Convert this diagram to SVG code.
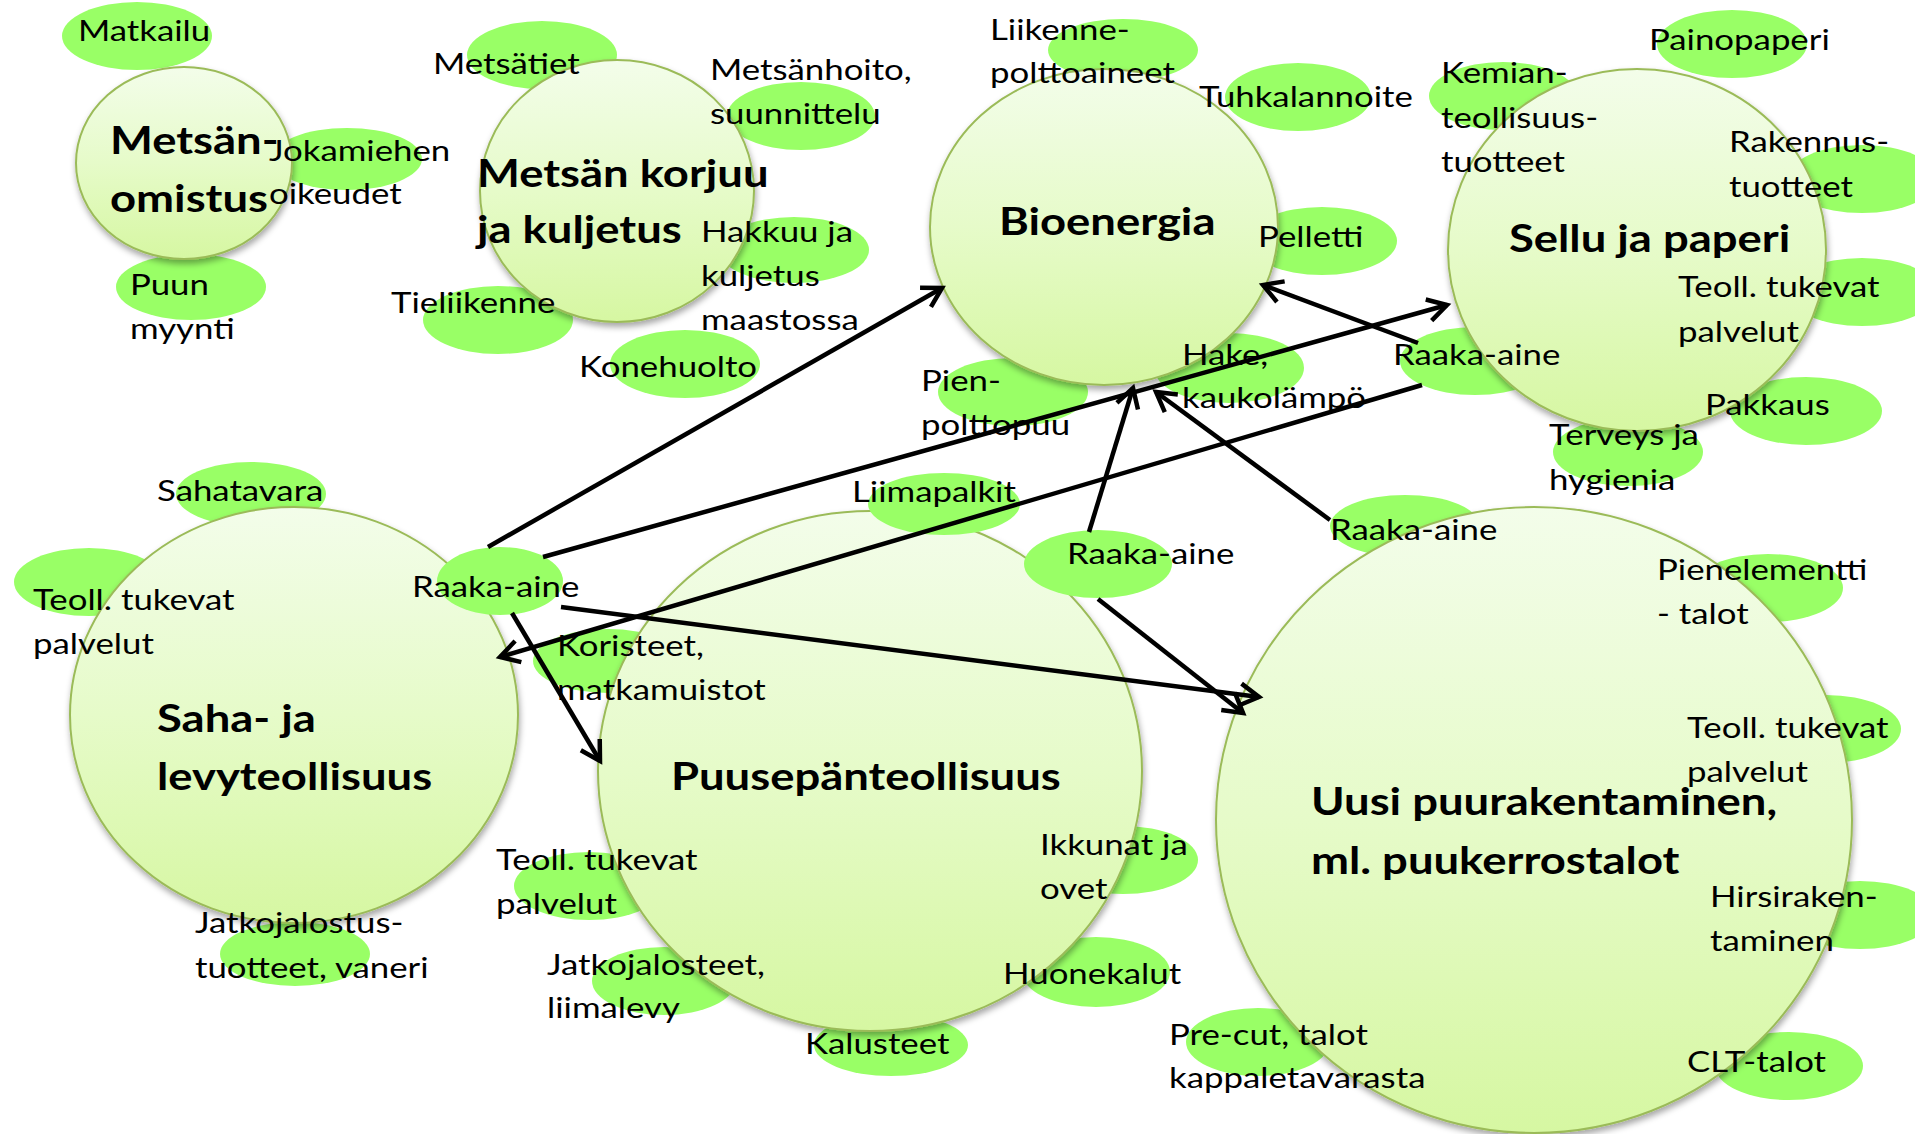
<svg xmlns="http://www.w3.org/2000/svg" width="1915" height="1134" viewBox="0 0 1915 1134">
<defs>
<style>
.bub{fill:#99ff66}
.node{fill:url(#ng);stroke:#9bbb59;stroke-width:2;filter:url(#sh)}
.r{font-family:Lato,"Liberation Sans",sans-serif;font-size:29px;fill:#000}
.b{font-family:Lato,"Liberation Sans",sans-serif;font-size:38px;font-weight:bold;fill:#000}
.c{stroke:#000;stroke-width:4.5;fill:none;marker-end:url(#ah)}
</style>
<linearGradient id="ng" x1="0" y1="0" x2="0" y2="1">
<stop offset="0" stop-color="#f3fdea"/>
<stop offset="0.5" stop-color="#e6fbc9"/>
<stop offset="1" stop-color="#d6f7a2"/>
</linearGradient>
<filter id="sh" x="-10%" y="-10%" width="120%" height="125%">
<feDropShadow dx="1" dy="4" stdDeviation="3" flood-color="#000" flood-opacity="0.35"/>
</filter>
<marker id="ah" markerUnits="userSpaceOnUse" markerWidth="32" markerHeight="32" viewBox="0 0 32 32" refX="27" refY="16" orient="auto">
<path d="M8,5 L27,16 L8,27" fill="none" stroke="#000" stroke-width="4.5"/>
</marker>
</defs>
<rect width="1915" height="1134" fill="#fff"/>

<g id="bubbles-back">
<ellipse id="b-matkailu" class="bub" cx="137" cy="36" rx="75" ry="34"/>
<ellipse id="b-jokamiehen" class="bub" cx="347" cy="159" rx="75" ry="31"/>
<ellipse id="b-puun" class="bub" cx="191" cy="287" rx="75" ry="33"/>
<ellipse id="b-metsatiet" class="bub" cx="542" cy="55" rx="75" ry="34"/>
<ellipse id="b-metsanhoito" class="bub" cx="801" cy="116" rx="74" ry="34"/>
<ellipse id="b-hakkuu" class="bub" cx="794" cy="250" rx="75" ry="33"/>
<ellipse id="b-tieliikenne" class="bub" cx="498" cy="320" rx="75" ry="34"/>
<ellipse id="b-konehuolto" class="bub" cx="685" cy="364" rx="75" ry="34"/>
<ellipse id="b-liikenne" class="bub" cx="1123" cy="50" rx="75" ry="31"/>
<ellipse id="b-tuhka" class="bub" cx="1298" cy="97" rx="73" ry="34"/>
<ellipse id="b-pelletti" class="bub" cx="1322" cy="241" rx="75" ry="34"/>
<ellipse id="b-pien" class="bub" cx="1013" cy="392" rx="75" ry="34"/>
<ellipse id="b-hake" class="bub" cx="1229" cy="368" rx="75" ry="35"/>
<ellipse id="b-kemian" class="bub" cx="1503" cy="96" rx="74" ry="34"/>
<ellipse id="b-painopaperi" class="bub" cx="1732" cy="44" rx="75" ry="34"/>
<ellipse id="b-rakennus" class="bub" cx="1862" cy="179" rx="75" ry="34"/>
<ellipse id="b-teoll-sellu" class="bub" cx="1862" cy="292" rx="75" ry="34"/>
<ellipse id="b-raaka-sellu" class="bub" cx="1475" cy="361" rx="75" ry="34"/>
<ellipse id="b-pakkaus" class="bub" cx="1806" cy="411" rx="76" ry="34"/>
<ellipse id="b-terveys" class="bub" cx="1628" cy="452" rx="75" ry="34"/>
<ellipse id="b-sahatavara" class="bub" cx="251" cy="494" rx="75" ry="32"/>
<ellipse id="b-teoll-saha" class="bub" cx="89" cy="582" rx="75" ry="34"/>
<ellipse id="b-raaka-uusi" class="bub" cx="1405" cy="526" rx="75" ry="31"/>
<ellipse id="b-koristeet" class="bub" cx="608" cy="661" rx="75" ry="32"/>
<ellipse id="b-pienelementti" class="bub" cx="1768" cy="588" rx="75" ry="34"/>
<ellipse id="b-teoll-uusi" class="bub" cx="1826" cy="729" rx="75" ry="34"/>
<ellipse id="b-teoll-puusepan" class="bub" cx="589" cy="886" rx="75" ry="34"/>
<ellipse id="b-ikkunat" class="bub" cx="1123" cy="860" rx="75" ry="34"/>
<ellipse id="b-jatkojalostus" class="bub" cx="295" cy="954" rx="75" ry="32"/>
<ellipse id="b-jatkojalosteet" class="bub" cx="664" cy="981" rx="72" ry="34"/>
<ellipse id="b-huonekalut" class="bub" cx="1096" cy="972" rx="74" ry="35"/>
<ellipse id="b-kalusteet" class="bub" cx="891" cy="1045" rx="77" ry="31"/>
<ellipse id="b-precut" class="bub" cx="1258" cy="1042" rx="72" ry="34"/>
<ellipse id="b-hirsi" class="bub" cx="1860" cy="915" rx="75" ry="34"/>
<ellipse id="b-clt" class="bub" cx="1789" cy="1066" rx="74" ry="34"/>
</g>

<g id="node-metsanomistus">
<ellipse class="node" cx="184" cy="163" rx="108" ry="96"/>
<text class="b" transform="matrix(1.195 0 0 1 110 154)"><tspan x="0">Metsän-</tspan><tspan x="0" dy="58">omistus</tspan></text>
</g>
<g id="node-korjuu">
<ellipse class="node" cx="617" cy="191" rx="137" ry="131"/>
<text class="b" transform="matrix(1.195 0 0 1 477 187)"><tspan x="0">Metsän korjuu</tspan><tspan x="0" dy="56">ja kuljetus</tspan></text>
</g>
<g id="node-bioenergia">
<ellipse class="node" cx="1104" cy="227" rx="174" ry="158"/>
<text class="b" transform="matrix(1.195 0 0 1 999 235)">Bioenergia</text>
</g>
<g id="node-sellu">
<ellipse class="node" cx="1637" cy="250" rx="189" ry="181"/>
<text class="b" transform="matrix(1.195 0 0 1 1509 252)">Sellu ja paperi</text>
</g>
<g id="node-saha">
<ellipse class="node" cx="294" cy="715" rx="224" ry="208"/>
<text class="b" transform="matrix(1.195 0 0 1 157 732)"><tspan x="0">Saha- ja</tspan><tspan x="0" dy="58">levyteollisuus</tspan></text>
</g>
<g id="node-puusepan">
<ellipse class="node" cx="870" cy="771" rx="272" ry="260"/>
<text class="b" transform="matrix(1.195 0 0 1 671 790)">Puusepänteollisuus</text>
</g>
<g id="node-uusi">
<ellipse class="node" cx="1534" cy="820" rx="318" ry="313"/>
<text class="b" transform="matrix(1.195 0 0 1 1311 815)"><tspan x="0">Uusi puurakentaminen,</tspan><tspan x="0" dy="59">ml. puukerrostalot</tspan></text>
</g>

<g id="bubbles-front">
<ellipse id="b-raaka-saha" class="bub" cx="500" cy="581" rx="63" ry="34"/>
<ellipse id="b-liimapalkit" class="bub" cx="944" cy="504" rx="76" ry="31"/>
<ellipse id="b-raaka-mid" class="bub" cx="1098" cy="564" rx="74" ry="34"/>
</g>

<g id="labels">
<g id="l-matkailu"><text class="r" transform="matrix(1.2 0 0 1 78 41)">Matkailu</text></g>
<g id="l-jokamiehen"><text class="r" transform="matrix(1.2 0 0 1 269 161)"><tspan x="0">Jokamiehen</tspan><tspan x="0" dy="43">oikeudet</tspan></text></g>
<g id="l-puun"><text class="r" transform="matrix(1.2 0 0 1 130 295)"><tspan x="0">Puun</tspan><tspan x="0" dy="44">myynti</tspan></text></g>
<g id="l-metsatiet"><text class="r" transform="matrix(1.2 0 0 1 433 74)">Metsätiet</text></g>
<g id="l-metsanhoito"><text class="r" transform="matrix(1.2 0 0 1 710 80)"><tspan x="0">Metsänhoito,</tspan><tspan x="0" dy="44">suunnittelu</tspan></text></g>
<g id="l-hakkuu"><text class="r" transform="matrix(1.2 0 0 1 701 242)"><tspan x="0">Hakkuu ja</tspan><tspan x="0" dy="44">kuljetus</tspan><tspan x="0" dy="44">maastossa</tspan></text></g>
<g id="l-tieliikenne"><text class="r" transform="matrix(1.2 0 0 1 391 313)">Tieliikenne</text></g>
<g id="l-konehuolto"><text class="r" transform="matrix(1.2 0 0 1 579 377)">Konehuolto</text></g>
<g id="l-liikenne"><text class="r" transform="matrix(1.2 0 0 1 990 40)"><tspan x="0">Liikenne-</tspan><tspan x="0" dy="43">polttoaineet</tspan></text></g>
<g id="l-tuhka"><text class="r" transform="matrix(1.2 0 0 1 1199 107)">Tuhkalannoite</text></g>
<g id="l-pelletti"><text class="r" transform="matrix(1.2 0 0 1 1258 247)">Pelletti</text></g>
<g id="l-pien"><text class="r" transform="matrix(1.2 0 0 1 921 391)"><tspan x="0">Pien-</tspan><tspan x="0" dy="44">polttopuu</tspan></text></g>
<g id="l-hake"><text class="r" transform="matrix(1.2 0 0 1 1182 365)"><tspan x="0">Hake,</tspan><tspan x="0" dy="43">kaukolämpö</tspan></text></g>
<g id="l-kemian"><text class="r" transform="matrix(1.2 0 0 1 1441 83)"><tspan x="0">Kemian-</tspan><tspan x="0" dy="45">teollisuus-</tspan><tspan x="0" dy="44">tuotteet</tspan></text></g>
<g id="l-painopaperi"><text class="r" transform="matrix(1.2 0 0 1 1649 50)">Painopaperi</text></g>
<g id="l-rakennus"><text class="r" transform="matrix(1.2 0 0 1 1729 152)"><tspan x="0">Rakennus-</tspan><tspan x="0" dy="45">tuotteet</tspan></text></g>
<g id="l-teoll-sellu"><text class="r" transform="matrix(1.2 0 0 1 1678 297)"><tspan x="0">Teoll. tukevat</tspan><tspan x="0" dy="45">palvelut</tspan></text></g>
<g id="l-raaka-sellu"><text class="r" transform="matrix(1.2 0 0 1 1393 365)">Raaka-aine</text></g>
<g id="l-pakkaus"><text class="r" transform="matrix(1.2 0 0 1 1705 415)">Pakkaus</text></g>
<g id="l-terveys"><text class="r" transform="matrix(1.2 0 0 1 1549 445)"><tspan x="0">Terveys ja</tspan><tspan x="0" dy="45">hygienia</tspan></text></g>
<g id="l-sahatavara"><text class="r" transform="matrix(1.2 0 0 1 157 501)">Sahatavara</text></g>
<g id="l-teoll-saha"><text class="r" transform="matrix(1.2 0 0 1 33 610)"><tspan x="0">Teoll. tukevat</tspan><tspan x="0" dy="44">palvelut</tspan></text></g>
<g id="l-raaka-saha"><text class="r" transform="matrix(1.2 0 0 1 412 597)">Raaka-aine</text></g>
<g id="l-liimapalkit"><text class="r" transform="matrix(1.2 0 0 1 852 502)">Liimapalkit</text></g>
<g id="l-raaka-mid"><text class="r" transform="matrix(1.2 0 0 1 1067 564)">Raaka-aine</text></g>
<g id="l-raaka-uusi"><text class="r" transform="matrix(1.2 0 0 1 1330 540)">Raaka-aine</text></g>
<g id="l-koristeet"><text class="r" transform="matrix(1.2 0 0 1 557 656)"><tspan x="0">Koristeet,</tspan><tspan x="0" dy="44">matkamuistot</tspan></text></g>
<g id="l-pienelementti"><text class="r" transform="matrix(1.2 0 0 1 1657 580)"><tspan x="0">Pienelementti</tspan><tspan x="0" dy="44">- talot</tspan></text></g>
<g id="l-teoll-uusi"><text class="r" transform="matrix(1.2 0 0 1 1687 738)"><tspan x="0">Teoll. tukevat</tspan><tspan x="0" dy="44">palvelut</tspan></text></g>
<g id="l-teoll-puusepan"><text class="r" transform="matrix(1.2 0 0 1 496 870)"><tspan x="0">Teoll. tukevat</tspan><tspan x="0" dy="44">palvelut</tspan></text></g>
<g id="l-ikkunat"><text class="r" transform="matrix(1.2 0 0 1 1040 855)"><tspan x="0">Ikkunat ja</tspan><tspan x="0" dy="44">ovet</tspan></text></g>
<g id="l-jatkojalostus"><text class="r" transform="matrix(1.2 0 0 1 195 933)"><tspan x="0">Jatkojalostus-</tspan><tspan x="0" dy="45">tuotteet, vaneri</tspan></text></g>
<g id="l-jatkojalosteet"><text class="r" transform="matrix(1.2 0 0 1 547 975)"><tspan x="0">Jatkojalosteet,</tspan><tspan x="0" dy="43">liimalevy</tspan></text></g>
<g id="l-huonekalut"><text class="r" transform="matrix(1.2 0 0 1 1003 984)">Huonekalut</text></g>
<g id="l-kalusteet"><text class="r" transform="matrix(1.2 0 0 1 805 1054)">Kalusteet</text></g>
<g id="l-precut"><text class="r" transform="matrix(1.2 0 0 1 1169 1045)"><tspan x="0">Pre-cut, talot</tspan><tspan x="0" dy="43">kappaletavarasta</tspan></text></g>
<g id="l-hirsi"><text class="r" transform="matrix(1.2 0 0 1 1710 907)"><tspan x="0">Hirsiraken-</tspan><tspan x="0" dy="44">taminen</tspan></text></g>
<g id="l-clt"><text class="r" transform="matrix(1.2 0 0 1 1687 1072)">CLT-talot</text></g>
</g>

<g id="connectors">
<line class="c" x1="488" y1="547" x2="942" y2="288"/>
<line class="c" x1="543" y1="557" x2="1447" y2="305"/>
<line class="c" x1="1422" y1="385" x2="500" y2="657"/>
<line class="c" x1="561" y1="607" x2="1259" y2="697"/>
<line class="c" x1="512" y1="613" x2="600" y2="761"/>
<line class="c" x1="1089" y1="532" x2="1133" y2="388"/>
<line class="c" x1="1098" y1="599" x2="1243" y2="713"/>
<line class="c" x1="1330" y1="520" x2="1156" y2="392"/>
<line class="c" x1="1418" y1="343" x2="1263" y2="285"/>
</g>
</svg>
